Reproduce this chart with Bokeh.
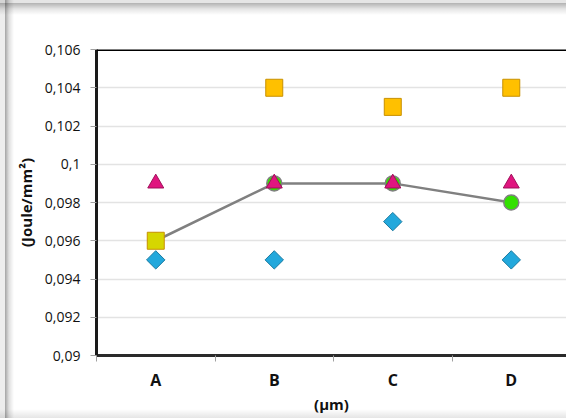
from bokeh.plotting import figure
from bokeh.models import FixedTicker, Range1d, Span
from bokeh.embed import file_html
from bokeh.resources import INLINE

categories = ["A", "B", "C", "D"]
diamond_vals = [0.095, 0.095, 0.097, 0.095]
square_vals = [0.096, 0.104, 0.103, 0.104]
triangle_vals = [0.099, 0.099, 0.099, 0.099]
circle_vals = [0.096, 0.099, 0.099, 0.098]
y_ticks = [0.090, 0.092, 0.094, 0.096, 0.098, 0.100, 0.102, 0.104, 0.106]
y_tick_labels = ["0,09", "0,092", "0,094", "0,096", "0,098", "0,1", "0,102", "0,104", "0,106"]
square_colors = ["#D6D600", "#FFC000", "#FFC000", "#FFC000"]

xs = [i + 0.5 for i in range(len(categories))]

FONT = "Open Sans"
W, H = 566, 418

p = figure(width=W, height=H, output_backend="svg", toolbar_location=None,
           x_range=Range1d(0, 3.966), y_range=Range1d(0.090, 0.106),
           min_border_left=96, min_border_right=0, min_border_top=49, min_border_bottom=63)
p.outline_line_color = None
p.background_fill_color = "white"
p.border_fill_alpha = 0
# window shadow edges drawn via CSS behind the transparent border area
p.styles = {
    "background": (
        "linear-gradient(to right, rgba(0,0,0,0.07) 0px, rgba(0,0,0,0.07) 5px, "
        "rgba(0,0,0,0.36) 5px, rgba(0,0,0,0.12) 9px, rgba(0,0,0,0) 14px), "
        "linear-gradient(to bottom, rgba(0,0,0,0.10) 0px, rgba(0,0,0,0.10) 3px, "
        "rgba(0,0,0,0.30) 3px, rgba(0,0,0,0.10) 9px, rgba(0,0,0,0) 15px), "
        "linear-gradient(to top, rgba(0,0,0,0.10) 0px, rgba(0,0,0,0) 9px), white"
    )
}

# grid
p.xgrid.grid_line_color = None
p.ygrid.grid_line_color = "#E3E3E3"
p.ygrid.grid_line_width = 1.5
p.ygrid.ticker = FixedTicker(ticks=y_ticks)

# y axis
p.yaxis.ticker = FixedTicker(ticks=y_ticks)
p.yaxis.major_label_overrides = {t: l for t, l in zip(y_ticks, y_tick_labels)}
p.yaxis.axis_line_color = "#1A1A1A"
p.yaxis.axis_line_width = 3
p.yaxis.major_tick_line_color = "#A0A0A0"
p.yaxis.major_tick_out = 6
p.yaxis.major_tick_in = 0
p.yaxis.minor_tick_line_color = None
p.yaxis.major_label_text_font = FONT
p.yaxis.major_label_text_font_size = "14px"
p.yaxis.major_label_text_color = "#111111"
p.yaxis.major_label_standoff = 10
p.yaxis.axis_label = "(Joule/mm²)"
p.yaxis.axis_label_text_font = FONT
p.yaxis.axis_label_text_font_style = "bold"
p.yaxis.axis_label_text_font_size = "15px"
p.yaxis.axis_label_text_color = "#111111"
p.yaxis.axis_label_standoff = 6

# x axis
p.xaxis.ticker = FixedTicker(ticks=xs, minor_ticks=list(range(len(categories) + 1)))
p.xaxis.major_label_overrides = {x: c for x, c in zip(xs, categories)}
p.xaxis.axis_line_color = "#2A2A2A"
p.xaxis.axis_line_width = 3
p.xaxis.major_tick_line_color = None
p.xaxis.major_tick_out = 0
p.xaxis.major_tick_in = 0
p.xaxis.minor_tick_line_color = "#A0A0A0"
p.xaxis.minor_tick_out = 6
p.xaxis.minor_tick_in = 0
p.xaxis.major_label_text_font = FONT
p.xaxis.major_label_text_font_style = "bold"
p.xaxis.major_label_text_font_size = "16px"
p.xaxis.major_label_text_color = "#111111"
p.xaxis.major_label_standoff = 7
p.xaxis.axis_label = "(µm)"
p.xaxis.axis_label_text_font = FONT
p.xaxis.axis_label_text_font_style = "bold"
p.xaxis.axis_label_text_font_size = "15px"
p.xaxis.axis_label_text_color = "#111111"
p.xaxis.axis_label_standoff = 0

# top border
p.add_layout(Span(location=0.106, dimension="width", line_color="black", line_width=3))

# series
p.line(xs, circle_vals, line_color="#808080", line_width=2.5)
p.scatter(xs, circle_vals, marker="circle", size=15, fill_color="#33E000",
          line_color="#808080", line_width=1.5)
p.scatter(xs, square_vals, marker="square", size=17, fill_color=square_colors,
          line_color="#C89000", line_width=1)
p.scatter(xs, triangle_vals, marker="triangle", size=16, fill_color="#E0157F",
          line_color="#A00F5A", line_width=1)
p.scatter(xs, diamond_vals, marker="square", angle=0.785398, size=13,
          fill_color="#22A8DC", line_color="#1A7AA0", line_width=1)

open("out.html", "w").write(file_html(p, INLINE))
